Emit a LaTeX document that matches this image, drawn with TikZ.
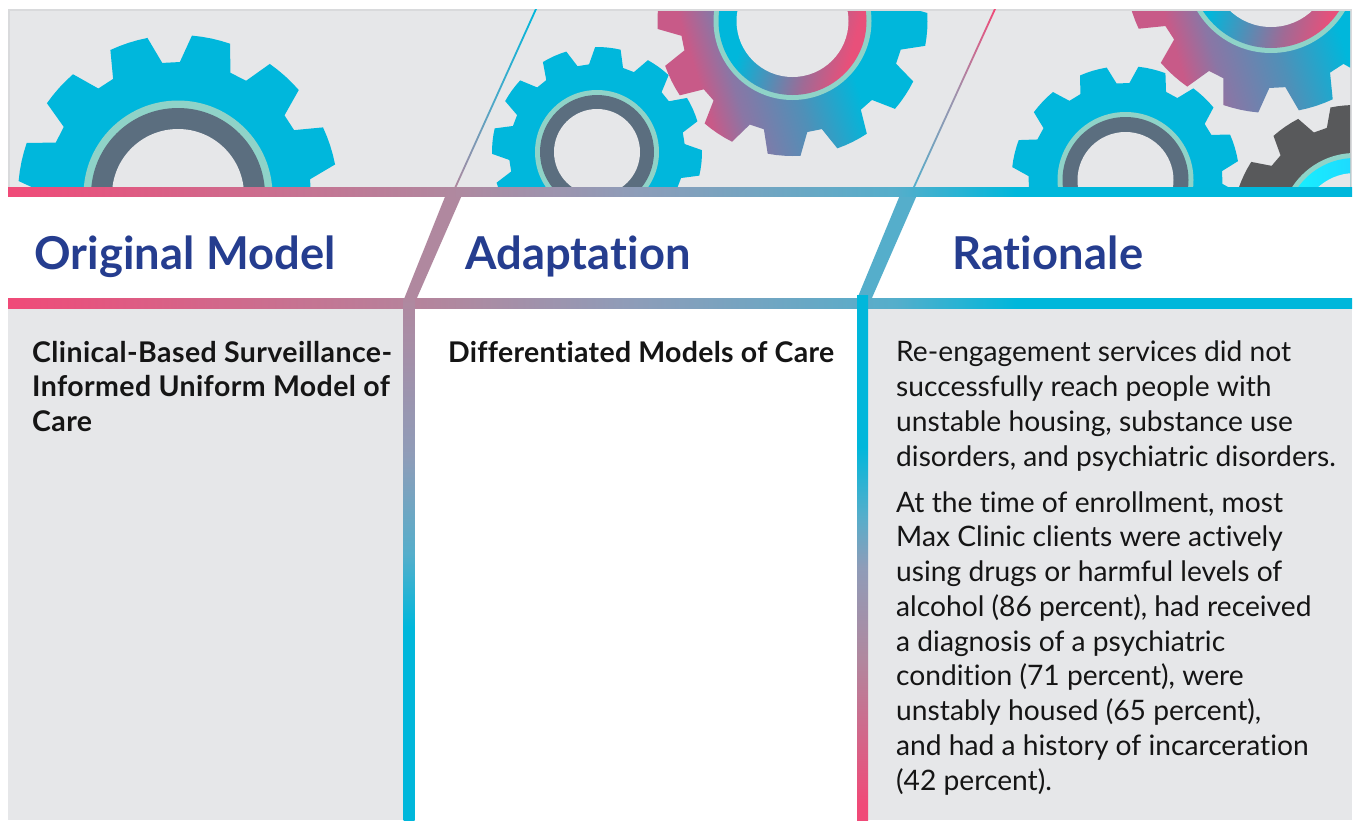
\documentclass[tikz,border=0pt]{standalone}
\usepackage{fontspec}
\setmainfont{Lato}[Ligatures=NoCommon]
\newfontfamily\titlefont{Lato}[Ligatures=NoCommon,LetterSpace=0.3]
\newfontfamily\boldone{Lato}[Ligatures=NoCommon,LetterSpace=1.4]
\newfontfamily\boldtwo{Lato}[Ligatures=NoCommon,LetterSpace=1.0]
\definecolor{panelgray}{HTML}{E6E7E9}
\definecolor{edgegray}{HTML}{D9DADC}
\definecolor{gearblue}{HTML}{00B7DC}
\definecolor{hubteal}{HTML}{8FD3C8}
\definecolor{hubslate}{HTML}{5B6E7F}
\definecolor{geardark}{HTML}{58595B}
\definecolor{titleblue}{HTML}{253D8F}
\definecolor{inkblack}{HTML}{151515}
\definecolor{gpink}{HTML}{F04A78}
\definecolor{gmauve}{HTML}{B0889F}
\definecolor{gsteel}{HTML}{8F9CB8}
\definecolor{gsky}{HTML}{55AECB}
\definecolor{gcyan}{HTML}{00B7DB}
\definecolor{opink}{HTML}{C85A88}
\definecolor{opurple}{HTML}{8A76A5}
\definecolor{oblue}{HTML}{4F90B8}
\definecolor{rmauve}{HTML}{A06A95}
\definecolor{rpink}{HTML}{E8507A}
\definecolor{bright}{HTML}{18EEFF}
\definecolor{brightb}{HTML}{25BFFF}
\pgfdeclarehorizontalshading{barshade}{100bp}{
 color(0bp)=(gpink); color(25bp)=(gpink); color(41.5bp)=(gmauve); color(48bp)=(gsteel); color(58bp)=(gsky); color(62.5bp)=(gcyan); color(100bp)=(gcyan)}
\pgfdeclarehorizontalshading{outergear}{100bp}{
 color(0bp)=(opink); color(30bp)=(opink); color(36bp)=(opurple); color(47bp)=(oblue); color(58bp)=(gcyan); color(100bp)=(gcyan)}
\pgfdeclarehorizontalshading{innergear}{100bp}{
 color(0bp)=(gcyan); color(35bp)=(gcyan); color(47bp)=(oblue); color(59bp)=(rmauve); color(72bp)=(rpink); color(100bp)=(rpink)}
\pgfdeclarehorizontalshading{brightring}{100bp}{
 color(0bp)=(bright); color(30bp)=(bright); color(75bp)=(brightb); color(100bp)=(brightb)}
\pgfdeclareverticalshading{vbarone}{100bp}{
 color(0bp)=(gcyan); color(43.5bp)=(gcyan); color(50.5bp)=(gsky); color(60bp)=(gsteel); color(75bp)=(gmauve); color(100bp)=(gmauve)}
\pgfdeclareverticalshading{vbartwo}{100bp}{
 color(0bp)=(gpink); color(26.5bp)=(gpink); color(40.5bp)=(gmauve); color(49bp)=(gsteel); color(54bp)=(gsky); color(60.5bp)=(gcyan); color(100bp)=(gcyan)}
\newcommand{\makegear}[3]{% tip r, root r, first angle
 \gdef\gearpts{}%
 \foreach \k in {0,...,11}{%
  \pgfmathsetmacro\aone{#3+30*\k-11.2}%
  \pgfmathsetmacro\atwo{#3+30*\k-7}%
  \pgfmathsetmacro\ahal{#3+30*\k-3.5}%
  \pgfmathsetmacro\athr{#3+30*\k}%
  \pgfmathsetmacro\ahbl{#3+30*\k+3.5}%
  \pgfmathsetmacro\afou{#3+30*\k+7}%
  \pgfmathsetmacro\afiv{#3+30*\k+11.2}%
  \xdef\gearpts{\gearpts (\aone:#2) -- (\atwo:#1) -- (\ahal:#1) -- (\athr:#1) -- (\ahbl:#1) -- (\afou:#1) -- (\afiv:#2) -- }%
 }%
}
\tikzset{
 panel/.style={fill=panelgray,draw=none},
 title/.style={anchor=base west,inner sep=0pt,text=titleblue,font=\fontsize{45.3}{45.3}\titlefont\bfseries},
 bodybold/.style={anchor=base west,inner sep=0pt,align=left,text=inkblack,font=\fontsize{28.5}{34.4}\selectfont\bfseries},
 bodyreg/.style={anchor=base west,inner sep=0pt,align=left,text=inkblack,font=\fontsize{28.2}{34.75}\selectfont},
}
\begin{document}
\begin{tikzpicture}[x=1pt,y=-1pt]
\useasboundingbox (0,0) rectangle (1353,820);
\fill[white] (0,0) rectangle (1353,820);
\fill[edgegray] (8,9) rectangle (1352,187);
\fill[panelgray] (10,11) rectangle (1350,187);
\begin{scope}
\clip (10,11) rectangle (1350,187);
% gear 1
\begin{scope}[shift={(178,195)}]
 \makegear{160}{133}{-78}
 \fill[gearblue] \gearpts cycle;
 \fill[hubteal] (0,0) circle (94.5);
 \fill[hubslate] (0,0) circle (87);
 \fill[panelgray] (0,0) circle (66);
\end{scope}
% gear 2
\begin{scope}[shift={(597,152)}]
 \makegear{105}{88}{-84}
 \fill[gearblue] \gearpts cycle;
 \fill[hubteal] (0,0) circle (62);
 \fill[hubslate] (0,0) circle (57);
 \fill[panelgray] (0,0) circle (43);
\end{scope}
% gear 3
\begin{scope}[shift={(792.5,21)}]
 \makegear{135}{112}{93.6}
 \shade[shading=outergear,shading angle=17] \gearpts cycle;
 \fill[hubteal] (0,0) circle (79);
 \shade[shading=innergear,shading angle=-15] (0,0) circle (74);
 \fill[panelgray] (0,0) circle (56);
\end{scope}
% gear 4
\begin{scope}[shift={(1125.5,180)}]
 \makegear{114}{97}{-76.5}
 \fill[gearblue] \gearpts cycle;
 \fill[hubteal] (0,0) circle (68);
 \fill[hubslate] (0,0) circle (63);
 \fill[panelgray] (0,0) circle (48);
\end{scope}
% gear 5
\begin{scope}[shift={(1271,-33)}]
 \makegear{146}{121}{102}
 \shade[shading=outergear,shading angle=17] \gearpts cycle;
 \fill[hubteal] (0,0) circle (86);
 \shade[shading=innergear,shading angle=-15] (0,0) circle (81);
 \fill[panelgray] (0,0) circle (60);
\end{scope}
% gear 6
\begin{scope}[shift={(1355,228)}]
 \makegear{123}{104}{-94.5}
 \fill[geardark] \gearpts cycle;
 \fill[hubteal] (0,0) circle (75);
 \shade[shading=brightring] (0,0) circle (70);
 \fill[panelgray] (0,0) circle (55);
\end{scope}
\end{scope}
% lower panels
\fill[panel] (8,308) rectangle (404,820);
\fill[panel] (868,308) rectangle (1352,820);
% thin slanted lines
\shade[bottom color=gmauve,top color=gcyan,middle color=gcyan!50!gsteel] (535,9) -- (537,9) -- (456.5,187) -- (454.5,187) -- cycle;
\shade[bottom color=gsky,top color=gpink,middle color=gsteel!60!gmauve] (994,9) -- (996,9) -- (915,187) -- (913,187) -- cycle;
% slanted bars
\fill[gmauve] (445.7,195) -- (462,195) -- (416.5,299) -- (404,299) -- cycle;
\fill[gsky] (900,195) -- (917,195) -- (871.5,299) -- (857,299) -- cycle;
% horizontal bars
\shade[shading=barshade] (8,187) rectangle (1352,196);
\shade[shading=barshade] (8,298.5) rectangle (1352,308);
% vertical bars
\shade[shading=vbarone] (403.5,298.5) rectangle (414.5,820);
\shade[shading=vbartwo] (857,295) rectangle (868,820);
% titles
\node[title] (t1) at (34,269.7) {Original Model};
\node[title] (t2) at (465,269.7) {Adaptation};
\node[title] (t3) at (952,269.7) {Rationale};
% body
\node[bodybold] (b1) at (32,431.2) {\boldone\bfseries Clinical-Based Surveillance-\\\boldone\bfseries Informed Uniform Model of\\\boldone\bfseries Care};
\node[bodybold] (b2) at (448,362.3) {\boldtwo\bfseries Differentiated Models of Care};
\node[bodyreg] (b3) at (896,466.2) {Re-engagement services did not\\successfully reach people with\\unstable housing, substance use\\disorders, and psychiatric disorders.};
\node[bodyreg] (b4) at (896,790) {At the time of enrollment, most\\Max Clinic clients were actively\\using drugs or harmful levels of\\alcohol (86 percent), had received\\a diagnosis of a psychiatric\\condition (71 percent), were\\unstably housed (65 percent),\\and had a history of incarceration\\(42 percent).};
\end{tikzpicture}
\end{document}
